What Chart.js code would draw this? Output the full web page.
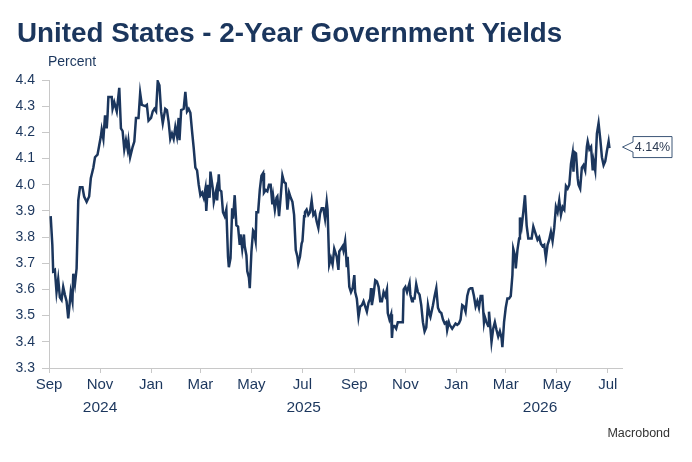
<!DOCTYPE html>
<html>
<head>
<meta charset="utf-8">
<script src="https://cdn.jsdelivr.net/npm/chart.js@4.4.1/dist/chart.umd.min.js"></script>
<style>
html,body{margin:0;padding:0;background:#fff;}
#wrap{position:relative;width:692px;height:462px;overflow:hidden;font-family:"Liberation Sans",Arial,sans-serif;}
canvas{position:absolute;left:0;top:0;}
.t{position:absolute;white-space:nowrap;line-height:1;}
</style>
</head>
<body>
<div id="wrap">
<canvas id="c" width="692" height="462"></canvas>
<div class="t" style="left:17px;top:19px;font-size:27.8px;font-weight:bold;color:#1b365d;">United States - 2-Year Government Yields</div>
<div class="t" style="left:48px;top:54px;font-size:14px;color:#1b365d;">Percent</div>
<div class="t" style="right:22px;top:427px;font-size:12.5px;color:#333333;">Macrobond</div>
</div>
<script>
// Observation dates expressed as days after 2024-09-01
const startDate = '2024-09-01';
const observationDay = [
2,4,5,7,9,11,13,15,17,19,21,23,25,26,28,29,31,33,35,37,40,42,45,48,50,53,55,58,60,62,63,65,67,69,70,71,75,76,78,81,
84,86,88,90,92,94,95,97,100,102,104,107,109,111,115,117,119,122,124,126,128,130,132,134,136,139,141,143,145,147,
149,151,153,155,156,158,161,163,165,167,169,171,173,175,177,179,181,183,185,187,188,190,192,193,196,197,200,201,203,204,
206,208,210,212,214,215,217,219,220,222,224,226,228,229,231,233,234,236,237,239,240,242,244,245,247,248,250,252,254,256,
257,259,261,263,265,267,268,270,272,273,275,277,279,281,283,285,287,289,291,293,295,297,298,300,302,303,305,306,308,310,
312,314,316,318,320,322,324,326,328,330,332,333,335,337,339,341,344,346,347,349,351,352,354,356,357,359,361,363,365,366,
368,370,372,374,376,378,380,382,384,385,386,388,390,392,394,396,398,400,402,404,405,407,409,410,411,413,415,417,420,423,
424,426,428,431,432,434,435,437,439,441,443,445,447,449,451,453,455,456,459,461,463,465,467,469,471,473,475,476,478,479,
482,484,486,488,490,492,494,496,498,500,502,504,506,508,510,512,514,516,518,520,521,523,525,526,528,529,531,533,535,537,
539,541,542,544,546,548,550,552,554,555,557,558,560,562,563,565,567,569,571,573,575,577,579,581,584,586,588,590,592,594,
596,598,600,602,604,606,608,610,612,614,616,618,620,622,624,626,627,628,630,632,633,635,637,639,641,643,644,646,648,650,
651,653,655,657,659,661,663,665,667,669,670
];
const yieldPct = [
3.88,3.77,3.67,3.675,3.59,3.64,3.57,3.56,3.61,3.58,3.555,3.49,3.555,3.59,3.555,3.66,3.62,3.68,3.94,3.99,3.99,3.955,3.935,3.955,4.025,4.065,4.105,4.115,4.15,4.185,4.21,4.175,4.265,4.215,4.265,4.335,4.335,4.29,4.315,4.28,
4.37,4.215,4.205,4.135,4.17,4.135,4.165,4.105,4.145,4.165,4.255,4.255,4.35,4.305,4.30,4.305,4.245,4.255,4.28,4.29,4.28,4.395,4.38,4.28,4.235,4.29,4.285,4.24,4.175,4.195,
4.175,4.22,4.185,4.255,4.17,4.285,4.29,4.355,4.28,4.29,4.275,4.205,4.14,4.065,4.055,4.00,3.96,3.97,3.95,3.985,3.90,4.00,3.95,4.05,3.98,3.935,3.98,3.94,4.04,3.98,
3.975,3.895,3.88,3.905,3.725,3.685,3.72,3.91,3.87,3.96,3.845,3.84,3.77,3.81,3.755,3.81,3.765,3.73,3.67,3.645,3.605,3.745,3.825,3.82,3.785,3.895,3.895,3.98,4.035,4.045,
3.97,3.98,3.975,4.00,4.00,3.925,3.955,3.905,3.95,3.955,3.88,3.955,4.035,4.01,4.005,3.905,3.97,3.95,3.935,3.885,3.75,3.725,3.70,3.725,3.775,3.785,3.88,3.895,3.905,3.885,
3.895,3.94,3.885,3.895,3.86,3.835,3.89,3.91,3.91,3.87,3.935,3.905,3.695,3.72,3.695,3.755,3.725,3.675,3.745,3.755,3.765,3.75,3.785,3.685,3.725,3.61,3.59,3.605,3.655,3.59,
3.565,3.495,3.535,3.54,3.555,3.535,3.515,3.55,3.565,3.605,3.54,3.58,3.635,3.63,3.61,3.555,3.555,3.59,3.575,3.60,3.51,3.485,3.505,3.415,3.46,3.46,3.45,3.475,3.475,3.475,
3.60,3.61,3.59,3.625,3.58,3.555,3.565,3.565,3.62,3.59,3.58,3.54,3.475,3.44,3.455,3.54,3.505,3.495,3.54,3.575,3.605,3.53,3.515,3.51,3.485,3.47,3.475,3.445,3.475,3.465,
3.45,3.46,3.47,3.465,3.47,3.485,3.54,3.535,3.515,3.575,3.60,3.605,3.605,3.575,3.535,3.555,3.53,3.575,3.575,3.475,3.495,3.475,3.46,3.515,3.44,3.40,3.45,3.475,3.445,3.42,
3.44,3.415,3.38,3.475,3.53,3.565,3.565,3.575,3.655,3.755,3.73,3.68,3.75,3.795,3.875,3.84,3.895,3.96,3.845,3.795,3.795,3.795,3.84,3.82,3.79,3.80,3.775,3.765,3.77,3.72,
3.77,3.79,3.82,3.785,3.835,3.915,3.895,3.94,3.885,3.915,3.905,3.995,3.985,4.00,4.08,4.12,4.05,4.125,4.12,4.025,4.00,3.985,4.065,4.075,4.055,4.145,4.165,4.135,4.145,4.055,
4.09,4.055,4.195,4.235,4.175,4.105,4.075,4.09,4.13,4.165,4.14
];
const monthTickDays = [0,61,122,181,242,303,365,426,487,546,607,668];
const monthTickLabels = ['Sep','Nov','Jan','Mar','May','Jul','Sep','Nov','Jan','Mar','May','Jul'];
const yearLabelDays = [61,304.5,587];
const yearLabels = ['2024','2025','2026'];
const yTicks = [3.3,3.4,3.5,3.6,3.7,3.8,3.9,4.0,4.1,4.2,4.3,4.4];
const yTickLabels = ['3.3','3.4','3.5','3.6','3.7','3.8','3.9','4.0','4.1','4.2','4.3','4.4'];
const axisMinDay = 0;
const axisMaxDay = 685;
const lastValueLabel = '4.14%';

const NAVY = '#1b365d';
const GRID = '#c8c8c8';
Chart.defaults.font.family = '"Liberation Sans", Arial, sans-serif';

const points = observationDay.map((d, i) => ({x: d, y: yieldPct[i]}));

const endLabelPlugin = {
  id: 'endLabel',
  afterDraw(chart) {
    const ctx = chart.ctx;
    const y = chart.scales.y.getPixelForValue(yieldPct[yieldPct.length - 1]) - 1;
    const tipX = chart.chartArea.right + 0.5;
    const bx = tipX + 10.5, bw = 39, bh = 21;
    const top = y - bh / 2, bot = y + bh / 2;
    ctx.save();
    ctx.beginPath();
    ctx.moveTo(bx, top);
    ctx.lineTo(bx + bw, top);
    ctx.lineTo(bx + bw, bot);
    ctx.lineTo(bx, bot);
    ctx.lineTo(bx, y + 5);
    ctx.lineTo(tipX, y);
    ctx.lineTo(bx, y - 5);
    ctx.closePath();
    ctx.fillStyle = '#ffffff';
    ctx.fill();
    ctx.lineWidth = 1;
    ctx.strokeStyle = '#3c5677';
    ctx.stroke();
    ctx.fillStyle = '#2b3a52';
    ctx.font = '12.5px "Liberation Sans", Arial, sans-serif';
    ctx.textAlign = 'center';
    ctx.textBaseline = 'middle';
    ctx.fillText(lastValueLabel, bx + bw / 2, y + 0.5);
    ctx.restore();
  }
};

new Chart(document.getElementById('c'), {
  type: 'line',
  data: {
    datasets: [{
      data: points,
      borderColor: NAVY,
      borderWidth: 2.5,
      pointRadius: 0,
      tension: 0,
      fill: false
    }]
  },
  options: {
    responsive: false,
    devicePixelRatio: 1,
    animation: false,
    layout: {padding: {left: 0, top: 80, right: 70, bottom: 42}},
    plugins: {legend: {display: false}, tooltip: {enabled: false}, title: {display: false}},
    scales: {
      x: {
        type: 'linear', position: 'bottom', min: axisMinDay, max: axisMaxDay,
        afterBuildTicks: s => { s.ticks = monthTickDays.map(v => ({value: v})); },
        afterFit: s => { s.height = 24; },
        ticks: {
          autoSkip: false, maxRotation: 0, minRotation: 0, padding: 3,
          color: NAVY, font: {size: 15},
          callback: (v, i) => monthTickLabels[i]
        },
        grid: {drawOnChartArea: false, drawTicks: true, tickLength: 5, color: GRID},
        border: {color: GRID}
      },
      xYear: {
        type: 'linear', position: 'bottom', min: axisMinDay, max: axisMaxDay,
        afterBuildTicks: s => { s.ticks = yearLabelDays.map(v => ({value: v})); },
        afterFit: s => { s.height = 28; },
        ticks: {
          autoSkip: false, maxRotation: 0, minRotation: 0, padding: 6,
          color: NAVY, font: {size: 15.5},
          callback: (v, i) => yearLabels[i]
        },
        grid: {display: false, drawTicks: false, tickLength: 0},
        border: {display: false}
      },
      y: {
        type: 'linear', min: 3.3, max: 4.4,
        afterBuildTicks: s => { s.ticks = yTicks.map(v => ({value: v})); },
        afterFit: s => { s.width = 49; },
        ticks: {
          padding: 7, color: NAVY, font: {size: 14},
          callback: (v, i) => yTickLabels[i]
        },
        grid: {drawOnChartArea: false, drawTicks: true, tickLength: 7, color: GRID},
        border: {color: GRID}
      }
    }
  },
  plugins: [endLabelPlugin]
});
</script>
</body>
</html>
